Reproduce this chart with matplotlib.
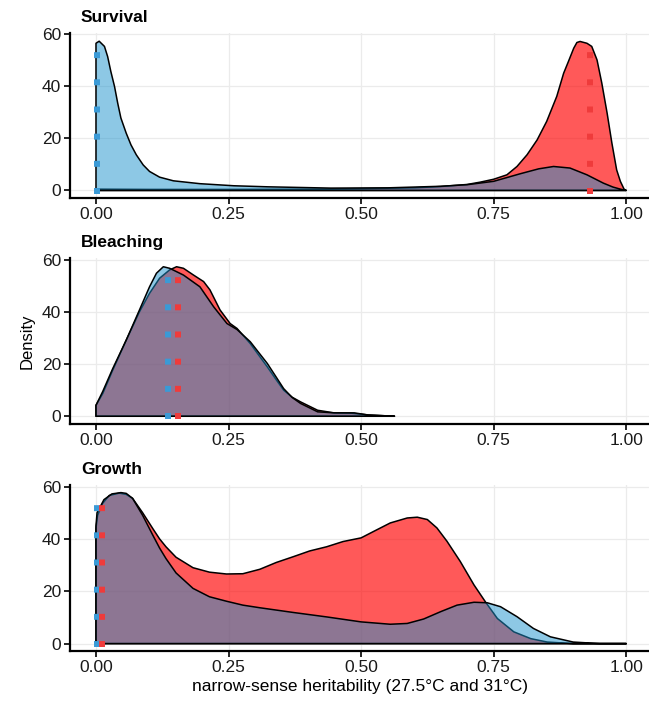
import matplotlib
matplotlib.use("Agg")
import matplotlib.pyplot as plt

plt.rcParams['font.family'] = ['Liberation Sans', 'DejaVu Sans']

# ---- data ----
titles = ["Survival", "Bleaching", "Growth"]
x_ticks = [0.0, 0.25, 0.5, 0.75, 1.0]
x_tick_labels = ["0.00", "0.25", "0.50", "0.75", "1.00"]
y_ticks = [0, 20, 40, 60]

surv_red_x = [0.0, 0.10, 0.25, 0.40, 0.50, 0.60, 0.65, 0.70, 0.725, 0.75, 0.775, 0.794, 0.813, 0.832,
              0.850, 0.869, 0.882, 0.891, 0.901, 0.907, 0.913, 0.926, 0.935, 0.945, 0.954, 0.964,
              0.973, 0.982, 0.989, 0.996, 1.0]
surv_red_y = [0.5, 0.4, 0.4, 0.5, 0.7, 1.0, 1.5, 2.3, 3.2, 4.3, 6.0, 9.2, 13.7, 19.4,
              26.5, 36.1, 45.0, 49.5, 54.6, 56.8, 57.2, 56.5, 55.3, 50.1, 41.2, 29.7,
              18.2, 7.9, 3.5, 0.5, 0.0]
surv_blue_x = [0.0, 0.006, 0.016, 0.022, 0.028, 0.035, 0.041, 0.047, 0.057, 0.066, 0.076, 0.089, 0.101,
               0.120, 0.146, 0.196, 0.260, 0.323, 0.443, 0.55, 0.65, 0.70, 0.75, 0.80, 0.835, 0.863,
               0.894, 0.926, 0.957, 0.975, 0.989, 1.0]
surv_blue_y = [56.5, 57.3, 55.3, 51.4, 45.7, 39.9, 33.5, 27.8, 22.0, 17.5, 13.7, 9.8, 7.3,
               5.1, 3.7, 2.6, 1.8, 1.4, 0.9, 1.0, 1.6, 2.2, 3.5, 6.4, 8.3, 9.2,
               8.6, 6.0, 2.8, 1.3, 0.5, 0.0]

blea_red_x = [0.0, 0.0127, 0.0316, 0.057, 0.082, 0.101, 0.120, 0.139, 0.152, 0.165, 0.184, 0.203, 0.215,
              0.234, 0.253, 0.266, 0.291, 0.323, 0.340, 0.354, 0.370, 0.386, 0.418, 0.449, 0.481, 0.513, 0.563]
blea_red_y = [4.2, 8.7, 17.7, 29.2, 40.1, 47.2, 53.0, 56.2, 57.4, 56.8, 54.2, 51.7, 48.5,
              40.8, 35.6, 33.7, 27.9, 19.0, 14.0, 10.0, 7.3, 5.5, 2.3, 1.3, 1.2, 0.5, 0.0]
blea_blue_x = [0.0, 0.0127, 0.0316, 0.057, 0.082, 0.101, 0.114, 0.127, 0.139, 0.165, 0.196, 0.222, 0.247,
               0.266, 0.291, 0.323, 0.340, 0.354, 0.370, 0.386, 0.418, 0.449, 0.487, 0.513, 0.563]
blea_blue_y = [4.2, 9.5, 18.3, 29.2, 40.8, 49.7, 54.9, 57.4, 56.8, 54.2, 49.7, 42.0, 35.6,
               33.3, 28.6, 20.3, 15.0, 10.6, 7.2, 4.9, 1.7, 1.3, 1.3, 0.5, 0.0]

grow_red_x = [0.0, 0.003, 0.0126, 0.025, 0.044, 0.057, 0.069, 0.088, 0.107, 0.120, 0.132, 0.151, 0.183,
              0.214, 0.246, 0.277, 0.309, 0.340, 0.372, 0.403, 0.435, 0.466, 0.50, 0.524, 0.555, 0.587,
              0.606, 0.625, 0.643, 0.662, 0.687, 0.713, 0.735, 0.757, 0.788, 0.820, 0.851, 0.90, 1.0]
grow_red_y = [44.0, 49.0, 53.6, 56.6, 57.5, 57.0, 55.5, 50.0, 44.0, 40.0, 37.0, 33.0, 29.0,
              27.3, 26.6, 26.7, 28.4, 31.0, 33.2, 35.4, 37.0, 39.0, 40.4, 42.9, 46.1, 48.0,
              48.3, 47.4, 44.2, 39.1, 31.4, 22.4, 15.8, 9.6, 4.5, 1.9, 0.6, 0.0, 0.0]
grow_blue_x = [0.0, 0.002, 0.015, 0.030, 0.047, 0.057, 0.069, 0.088, 0.107, 0.120, 0.132, 0.151, 0.183,
               0.214, 0.246, 0.277, 0.309, 0.372, 0.435, 0.50, 0.555, 0.587, 0.618, 0.650, 0.681, 0.713,
               0.738, 0.763, 0.794, 0.825, 0.857, 0.90, 0.95, 1.0]
grow_blue_y = [45.0, 50.0, 55.0, 57.2, 57.7, 57.4, 55.5, 49.0, 41.5, 36.5, 32.5, 27.0, 21.1,
               17.9, 16.2, 14.7, 13.7, 11.9, 10.2, 8.3, 7.4, 7.7, 9.4, 12.2, 14.7, 15.8,
               15.6, 14.1, 10.3, 5.8, 2.6, 0.6, 0.0, 0.0]

red_vline = [0.932, 0.154, 0.011]
blue_vline = [0.001, 0.136, 0.002]

red_curves = [(surv_red_x, surv_red_y), (blea_red_x, blea_red_y), (grow_red_x, grow_red_y)]
blue_curves = [(surv_blue_x, surv_blue_y), (blea_blue_x, blea_blue_y), (grow_blue_x, grow_blue_y)]

# ---- styling ----
RED_FILL = (1.0, 0.0, 0.0, 0.65)
BLUE_FILL = (29/255, 147/255, 205/255, 0.5)
RED_DOT = '#EF3B3B'
BLUE_DOT = '#3A9AD6'

W, H = 649, 704
fig = plt.figure(figsize=(W/100, H/100), dpi=100)

panels_px = [(32.6, 198.0), (258.4, 423.8), (485.0, 651.2)]
left_px, right_px = 70, 649

axes = []
for i, (top, bot) in enumerate(panels_px):
    ax = fig.add_axes([left_px/W, 1 - bot/H, (right_px-left_px)/W, (bot-top)/H])
    axes.append(ax)
    ax.set_xlim(-0.049, 1.043)
    ax.set_ylim(-2.9, 60.6)
    ax.set_xticks(x_ticks)
    ax.set_xticklabels(x_tick_labels)
    ax.set_yticks(y_ticks)
    ax.grid(True, color='#EBEBEB', linewidth=0.9, zorder=0)
    ax.set_axisbelow(True)
    for s in ['top', 'right']:
        ax.spines[s].set_visible(False)
    for s in ['left', 'bottom']:
        ax.spines[s].set_linewidth(1.6)
        ax.spines[s].set_color('black')
    ax.tick_params(axis='both', length=4, width=1.2, color='black', labelsize=12.5,
                   labelcolor='#1a1a1a', pad=2.5)

    rx, ry = red_curves[i]
    bx, by = blue_curves[i]
    ax.fill([rx[0]] + list(rx) + [rx[-1]], [0] + list(ry) + [0],
            facecolor=RED_FILL, edgecolor='black', linewidth=1.1, joinstyle='round', zorder=2)
    ax.fill([bx[0]] + list(bx) + [bx[-1]], [0] + list(by) + [0],
            facecolor=BLUE_FILL, edgecolor='black', linewidth=1.1, joinstyle='round', zorder=3)

    for xv, col in ((blue_vline[i], BLUE_DOT), (red_vline[i], RED_DOT)):
        ax.plot([xv, xv], [-1.2, 60.6], color=col, linewidth=4.3,
                linestyle=(0, (1, 3.55)), dash_capstyle='butt', zorder=4)

    fig.text(81/W, 1 - (17 + i*226)/H, titles[i], fontsize=12.5, fontweight='bold',
             ha='left', va='center', color='black')

axes[1].set_ylabel("Density", fontsize=12, labelpad=5)
axes[2].set_xlabel("narrow-sense heritability (27.5°C and 31°C)", fontsize=12.5, labelpad=3)

fig.savefig("out.png", dpi=100)
